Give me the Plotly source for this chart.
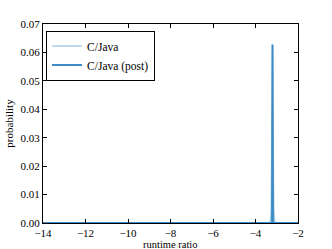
import plotly.graph_objects as go

# data
x_cj = [-14.0, -3.32, -3.26, -3.2, -3.14, -3.08, -2.0]
y_cj = [0.0, 0.0, 0.004, 0.0600, 0.004, 0.0, 0.0]
x_post = [-14.0, -3.28, -3.22, -3.2, -3.18, -3.14, -2.0]
y_post = [0.0, 0.0, 0.0, 0.0628, 0.0, 0.0, 0.0]

x_ticks = [-14, -12, -10, -8, -6, -4, -2]
y_ticks = [0.00, 0.01, 0.02, 0.03, 0.04, 0.05, 0.06, 0.07]

SERIF = "Liberation Serif"

fig = go.Figure()
fig.add_trace(go.Scatter(x=x_cj, y=y_cj, mode="lines", name="C/Java",
                         line=dict(color="#a6cee3", width=1.5)))
fig.add_trace(go.Scatter(x=x_post, y=y_post, mode="lines", name="C/Java (post)",
                         line=dict(color="#3c8ac6", width=2)))

font = dict(family=SERIF, size=11, color="black")
axis_common = dict(showline=True, linecolor="black", linewidth=1, mirror="allticks",
                   ticks="inside", ticklen=4, tickcolor="black", showgrid=False,
                   zeroline=False, tickfont=font, automargin=False)

fig.update_layout(
    width=332, height=249,
    margin=dict(l=43, r=34, t=24, b=26),
    paper_bgcolor="white", plot_bgcolor="white",
    font=font,
    showlegend=True,
    legend=dict(x=0.012, y=0.967, xanchor="left", yanchor="top",
                bordercolor="black", borderwidth=1, bgcolor="white",
                font=dict(family=SERIF, size=11.5, color="black"),
                itemwidth=30, tracegroupgap=0),
    xaxis=dict(range=[-14, -2], tickvals=x_ticks, **axis_common),
    yaxis=dict(range=[0, 0.07], tickvals=y_ticks, tickformat=".2f",
               title=dict(text="probability", standoff=4, font=font), **axis_common),
    annotations=[dict(text="runtime ratio", x=0.5, y=-0.108, xref="paper", yref="paper",
                      xanchor="center", yanchor="middle", showarrow=False,
                      font=dict(family=SERIF, size=10.5, color="black"))],
)

fig.write_html("out.html", post_script="document.body.style.margin='0';",
               config={"displayModeBar": False})
